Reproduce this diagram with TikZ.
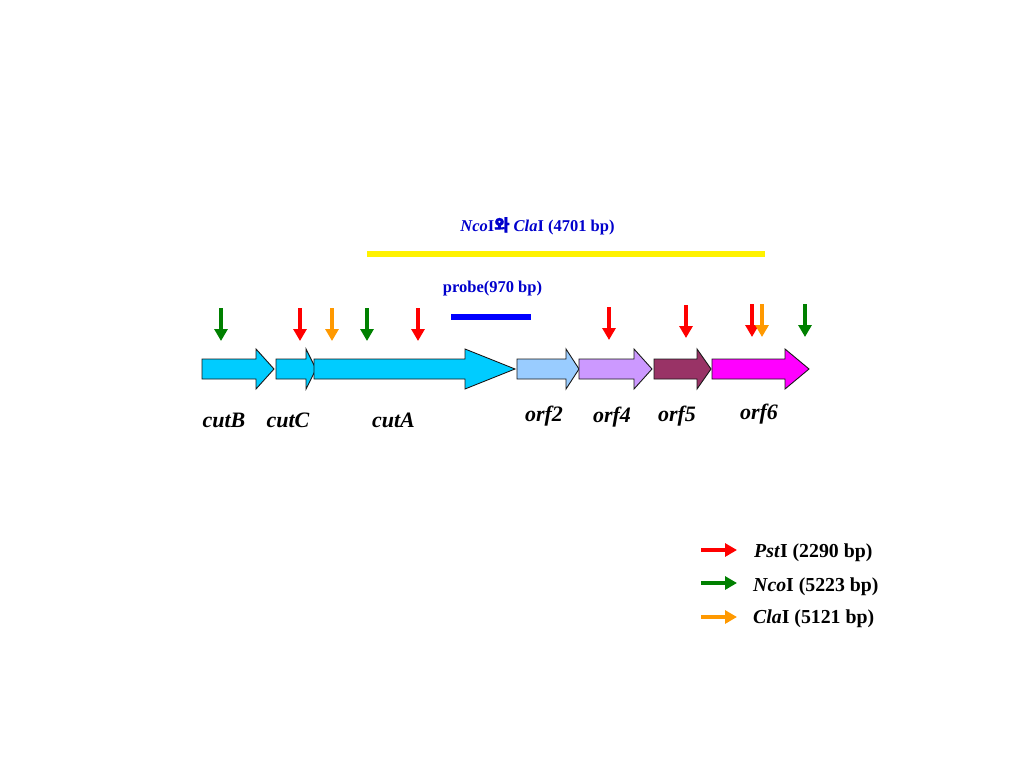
\documentclass[tikz,border=0pt]{standalone}
\usepackage{fontspec}
\setmainfont{Liberation Serif}
\newfontfamily\cjk[FakeBold=0.8]{Noto Sans CJK KR}
\usetikzlibrary{arrows.meta}
\definecolor{cutcol}{RGB}{0,204,255}
\definecolor{orftwo}{RGB}{153,204,255}
\definecolor{orffour}{RGB}{204,153,255}
\definecolor{orffive}{RGB}{153,51,102}
\definecolor{orfsix}{RGB}{255,0,255}
\definecolor{pstred}{RGB}{255,0,0}
\definecolor{ncogreen}{RGB}{0,128,0}
\definecolor{claorange}{RGB}{255,153,0}
\definecolor{labblue}{RGB}{0,0,204}
\newcommand\genearr[4]{%
  \filldraw[gene,fill=#4] (#1,369-10) -- (#2,369-10) -- (#2,369-20) -- (#3,369)
     -- (#2,369+20) -- (#2,369+10) -- (#1,369+10) -- cycle;}
\tikzset{
  gene/.style={draw=black!90, line width=0.9pt, line join=miter},
  cutarrow/.style={line width=4.3pt, -{Triangle[width=13pt,length=12pt]}},
  genelabel/.style={anchor=base, font=\fontsize{22}{24}\selectfont\bfseries\itshape, inner sep=0pt},
  toplabel/.style={anchor=base, font=\fontsize{16.5}{18}\selectfont\bfseries, text=labblue, inner sep=0pt},
  legendlabel/.style={anchor=base west, font=\fontsize{19.8}{22}\selectfont\bfseries, inner sep=0pt},
}
\begin{document}
\begin{tikzpicture}[x=1pt,y=-1pt]
\useasboundingbox (0,0) rectangle (1024,768);
% top fragment and probe
\node[toplabel] (ncocla) at (537.5,231) {\textit{Nco}I{\cjk 와} \textit{Cla}I (4701 bp)};
\draw[yellow, line width=6pt] (367,254) -- (765,254);
\node[toplabel] (probe) at (492.5,292) {probe(970 bp)};
\draw[blue, line width=6pt] (451,317) -- (531,317);
% genes
\genearr{202}{256}{274}{cutcol}
\genearr{276}{306}{316}{cutcol}
\genearr{314}{465}{515}{cutcol}
\genearr{517}{566}{579}{orftwo}
\genearr{579}{634}{652}{orffour}
\genearr{654}{697}{711}{orffive}
\genearr{712}{785}{809}{orfsix}
% restriction sites
\draw[cutarrow, ncogreen] (221,308) -- (221,341);
\draw[cutarrow, pstred] (300,308) -- (300,341);
\draw[cutarrow, claorange] (332,308) -- (332,341);
\draw[cutarrow, ncogreen] (367,308) -- (367,341);
\draw[cutarrow, pstred] (418,308) -- (418,341);
\draw[cutarrow, pstred] (609,307) -- (609,340);
\draw[cutarrow, pstred] (686,305) -- (686,338);
\draw[cutarrow, pstred] (752,304) -- (752,337);
\draw[cutarrow, claorange] (762,304) -- (762,337);
\draw[cutarrow, ncogreen] (805,304) -- (805,337);
% gene labels
\node[genelabel] (lcutB) at (224,427) {cutB};
\node[genelabel] (lcutC) at (288,427) {cutC};
\node[genelabel] (lcutA) at (393.5,427.5) {cutA};
\node[genelabel] (lorf2) at (544,421) {orf2};
\node[genelabel] (lorf4) at (612,422) {orf4};
\node[genelabel] (lorf5) at (677,421.5) {orf5};
\node[genelabel] (lorf6) at (759,419) {orf6};
% legend
\draw[cutarrow, pstred] (701,550) -- (737,550);
\draw[cutarrow, ncogreen] (701,583) -- (737,583);
\draw[cutarrow, claorange] (701,617) -- (737,617);
\node[legendlabel] (lpst) at (754,557) {\textit{Pst}I (2290 bp)};
\node[legendlabel] (lnco) at (753,591.5) {\textit{Nco}I (5223 bp)};
\node[legendlabel] (lcla) at (753,623) {\textit{Cla}I (5121 bp)};
\end{tikzpicture}
\end{document}
